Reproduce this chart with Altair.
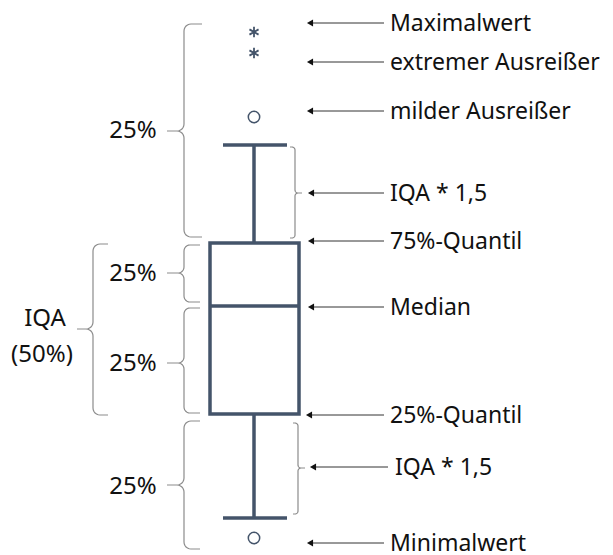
import math
import altair as alt
import pandas as pd

# ---------------- diagram values (vertical positions, top-down) ----------------
whisker_top = 145
q3 = 243
median = 306
q1 = 414
whisker_bottom = 518
mild_outliers = [117, 538]
extreme_outliers = [32, 53]

box_x = [210, 299]
cap_x = [223, 287]
center_x = 254

right_labels = ["Maximalwert", "extremer Ausreißer", "milder Ausreißer", "IQA * 1,5",
                "75%-Quantil", "Median", "25%-Quantil", "IQA * 1,5", "Minimalwert"]
right_label_y = [23, 62, 111, 193, 241, 307, 415, 467, 543]
right_label_x = [390, 390, 390, 390, 390, 390, 390, 395, 390]
arrow_tip_x = [310, 310, 310, 311, 311, 311, 309, 313, 310]
arrow_tail_x = [384, 384, 384, 384, 384, 384, 384, 388, 384]

left_labels = ["25%", "25%", "25%", "25%", "IQA", "(50%)"]
left_label_x = [133, 133, 133, 133, 45, 42]
left_label_y = [130, 273, 363, 486, 318, 354]

# braces: spine x, top, bottom, cusp y, direction (-1: cusp points left)
brace_spine_x = [184, 184, 184, 184, 93, 295, 298]
brace_top = [24, 245, 308, 421, 244, 147, 423]
brace_bottom = [237, 302, 413, 549, 415, 238, 514]
brace_cusp_y = [131, 273, 363, 485, 329, 193, 468]
brace_dir = [-1, -1, -1, -1, -1, 1, 1]
brace_tip = [18, 16, 16, 16, 15, 5, 5]
brace_cusp = [17, 17, 17, 17, 16, 7, 7]
brace_r = [7, 6, 6, 7, 7, 3, 3]

BOX_COLOR = "#44546a"
BRACE_COLOR = "#8c8c8c"
FONT = "Noto Sans"


def brace_points(xs, top, bottom, cy, d, tip, cusp, r, n=6):
    s = -d
    pts = [(xs + s * tip, top)]
    for i in range(n + 1):
        a = math.pi / 2 * i / n
        pts.append((xs + s * (r - r * math.sin(a)), top + r - r * math.cos(a)))
    for i in range(n + 1):
        a = math.pi / 2 * i / n
        pts.append((xs + d * (r - r * math.cos(a)), cy - r + r * math.sin(a)))
    pts.append((xs + d * cusp, cy))
    for i in range(n, -1, -1):
        a = math.pi / 2 * i / n
        pts.append((xs + d * (r - r * math.cos(a)), cy + r - r * math.sin(a)))
    for i in range(n + 1):
        a = math.pi / 2 * i / n
        pts.append((xs + s * (r - r * math.cos(a)), bottom - r + r * math.sin(a)))
    pts.append((xs + s * tip, bottom))
    return pts


rows = []
for k in range(len(brace_spine_x)):
    pts = brace_points(brace_spine_x[k], brace_top[k], brace_bottom[k], brace_cusp_y[k],
                       brace_dir[k], brace_tip[k], brace_cusp[k], brace_r[k])
    for j, (px, py) in enumerate(pts):
        rows.append({"id": k, "o": j, "x": px, "y": py})
braces_df = pd.DataFrame(rows)

xsc = alt.Scale(domain=[8, 605], nice=False, zero=False)
ysc = alt.Scale(domain=[8, 555], nice=False, zero=False, reverse=True)
X = lambda f="x": alt.X(f"{f}:Q", scale=xsc, axis=None)
Y = lambda f="y": alt.Y(f"{f}:Q", scale=ysc, axis=None)

braces = alt.Chart(braces_df).mark_line(color=BRACE_COLOR, strokeWidth=1.2).encode(
    x=X(), y=Y(), detail="id:N", order="o:Q")

box_df = pd.DataFrame({"x": [box_x[0]], "x2": [box_x[1]], "y": [q3], "y2": [q1]})
box = alt.Chart(box_df).mark_rect(fill=None, stroke=BOX_COLOR, strokeWidth=3.5).encode(
    x=X(), x2="x2:Q", y=Y(), y2="y2:Q")

hrules_df = pd.DataFrame({
    "x": [box_x[0], cap_x[0], cap_x[0]],
    "x2": [box_x[1], cap_x[1], cap_x[1]],
    "y": [median, whisker_top, whisker_bottom],
})
hrules = alt.Chart(hrules_df).mark_rule(color=BOX_COLOR, strokeWidth=3.5).encode(
    x=X(), x2="x2:Q", y=Y())

vrules_df = pd.DataFrame({
    "x": [center_x, center_x],
    "y": [whisker_top, q1],
    "y2": [q3, whisker_bottom],
})
vrules = alt.Chart(vrules_df).mark_rule(color=BOX_COLOR, strokeWidth=3.5).encode(
    x=X(), y=Y(), y2="y2:Q")

mild_df = pd.DataFrame({"x": [center_x] * len(mild_outliers), "y": mild_outliers})
mild = alt.Chart(mild_df).mark_point(shape="circle", size=130, filled=False,
                                     color=BOX_COLOR, strokeWidth=1.5, opacity=1).encode(
    x=X(), y=Y())

ext_df = pd.DataFrame({"x": [center_x] * len(extreme_outliers), "y": extreme_outliers})
ext = alt.Chart(ext_df).mark_point(
    shape="M0,-1L0,1M-0.87,-0.5L0.87,0.5M-0.87,0.5L0.87,-0.5",
    size=110, filled=False, color=BOX_COLOR, strokeWidth=1.8, opacity=1).encode(
    x=X(), y=Y())

arrows_df = pd.DataFrame({"x": arrow_tip_x, "x2": arrow_tail_x, "y": right_label_y})
arrow_lines = alt.Chart(arrows_df).mark_rule(color="#333333", strokeWidth=1).encode(
    x=X(), x2="x2:Q", y=Y())
arrow_heads = alt.Chart(arrows_df).mark_point(shape="triangle-left", size=50, filled=True,
                                              color="#111111", opacity=1).encode(
    x=X(), y=Y())

rlab_df = pd.DataFrame({"x": right_label_x, "y": right_label_y, "t": right_labels})
rlab = alt.Chart(rlab_df).mark_text(align="left", baseline="middle", font=FONT,
                                    fontSize=23, color="#111111", dy=1).encode(
    x=X(), y=Y(), text="t:N")

llab_df = pd.DataFrame({"x": left_label_x, "y": left_label_y, "t": left_labels})
llab = alt.Chart(llab_df).mark_text(align="center", baseline="middle", font=FONT,
                                    fontSize=24, color="#111111", dy=1).encode(
    x=X(), y=Y(), text="t:N")

chart = alt.layer(braces, box, hrules, vrules, mild, ext, arrow_lines, arrow_heads,
                  rlab, llab).properties(
    width=597, height=547, padding=0,
    autosize=alt.AutoSizeParams(type="none"),
).configure_view(stroke=None)

chart.save("out.html", embed_options={"renderer": "svg", "actions": False})
